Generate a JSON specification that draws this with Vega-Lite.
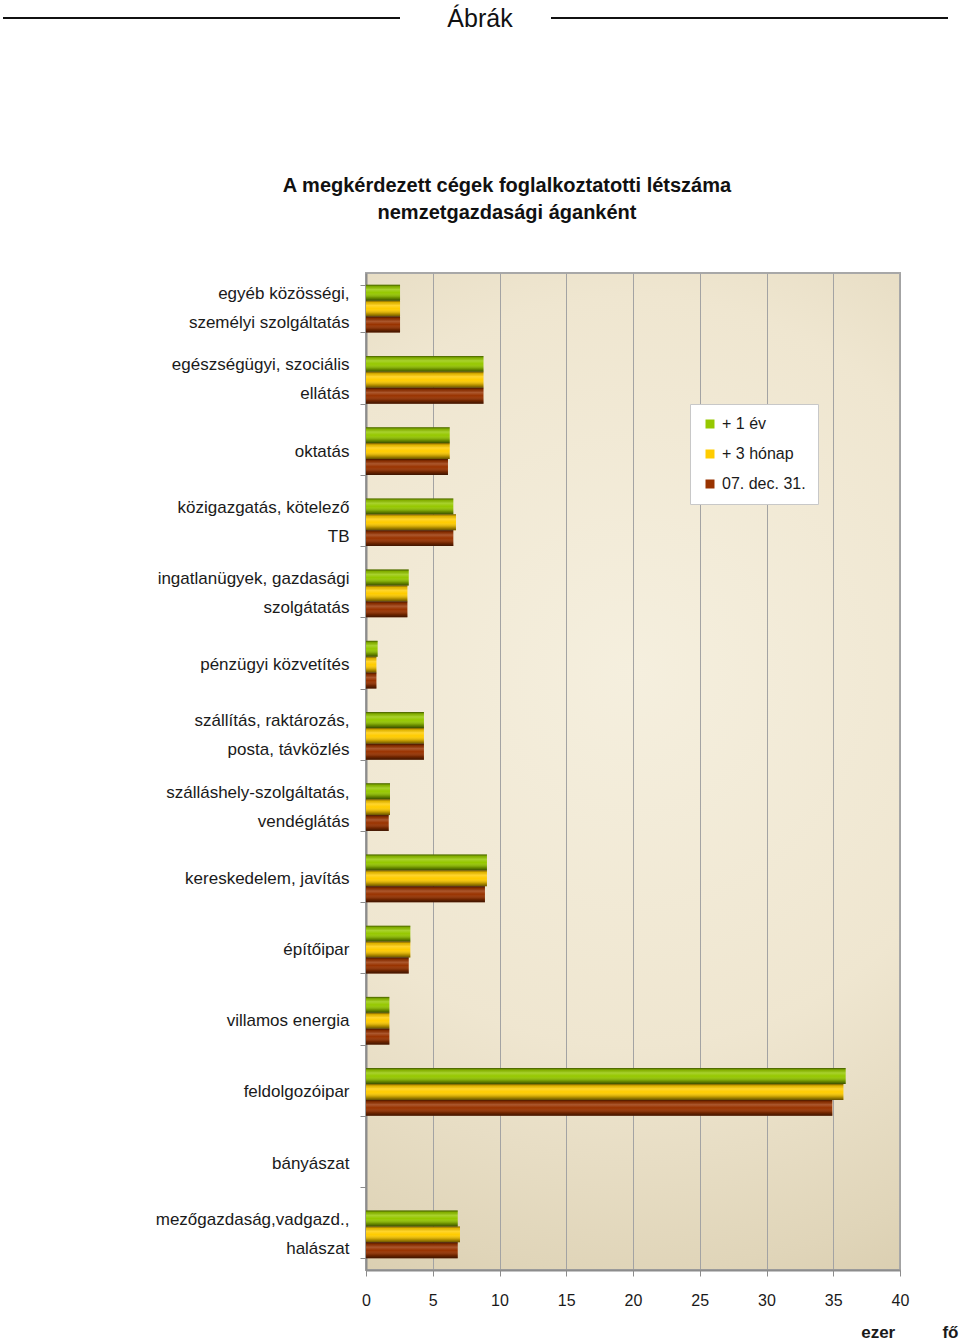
{
  "$schema": "https://vega.github.io/schema/vega-lite/v6.json",
  "width": 534,
  "height": 997,
  "autosize": "none",
  "padding": {"left": 366, "top": 273, "right": 60, "bottom": 73},
  "background": "white",
  "view": {
    "fill": {"gradient": "radial", "x1": 0.5, "y1": 0.4, "r1": 0, "x2": 0.5, "y2": 0.4, "r2": 0.75,
      "stops": [{"offset": 0, "color": "#f5efde"}, {"offset": 0.5, "color": "#efe6d0"}, {"offset": 0.8, "color": "#e0d5b9"}, {"offset": 1, "color": "#d3c6a6"}]},
    "stroke": "#a8a8a8",
    "strokeWidth": 2
  },
  "config": {
    "font": "Liberation Sans",
    "axis": {"labelFont": "Liberation Sans", "labelColor": "#1a1a1a", "titleFont": "Liberation Sans"},
    "legend": {"labelFont": "Liberation Sans"}
  },
  "datasets": {
    "main": [
      {"cat": "egyéb közösségi,\nszemélyi szolgáltatás", "series": "+ 1 év", "v": 2.55},
      {"cat": "egyéb közösségi,\nszemélyi szolgáltatás", "series": "+ 3 hónap", "v": 2.55},
      {"cat": "egyéb közösségi,\nszemélyi szolgáltatás", "series": "07. dec. 31.", "v": 2.55},
      {"cat": "egészségügyi, szociális\nellátás", "series": "+ 1 év", "v": 8.8},
      {"cat": "egészségügyi, szociális\nellátás", "series": "+ 3 hónap", "v": 8.8},
      {"cat": "egészségügyi, szociális\nellátás", "series": "07. dec. 31.", "v": 8.8},
      {"cat": "oktatás", "series": "+ 1 év", "v": 6.27},
      {"cat": "oktatás", "series": "+ 3 hónap", "v": 6.27},
      {"cat": "oktatás", "series": "07. dec. 31.", "v": 6.14},
      {"cat": "közigazgatás, kötelező\nTB", "series": "+ 1 év", "v": 6.54},
      {"cat": "közigazgatás, kötelező\nTB", "series": "+ 3 hónap", "v": 6.74},
      {"cat": "közigazgatás, kötelező\nTB", "series": "07. dec. 31.", "v": 6.54},
      {"cat": "ingatlanügyek, gazdasági\nszolgátatás", "series": "+ 1 év", "v": 3.2},
      {"cat": "ingatlanügyek, gazdasági\nszolgátatás", "series": "+ 3 hónap", "v": 3.1},
      {"cat": "ingatlanügyek, gazdasági\nszolgátatás", "series": "07. dec. 31.", "v": 3.1},
      {"cat": "pénzügyi közvetítés", "series": "+ 1 év", "v": 0.87},
      {"cat": "pénzügyi közvetítés", "series": "+ 3 hónap", "v": 0.78},
      {"cat": "pénzügyi közvetítés", "series": "07. dec. 31.", "v": 0.78},
      {"cat": "szállítás, raktározás,\nposta, távközlés", "series": "+ 1 év", "v": 4.34},
      {"cat": "szállítás, raktározás,\nposta, távközlés", "series": "+ 3 hónap", "v": 4.34},
      {"cat": "szállítás, raktározás,\nposta, távközlés", "series": "07. dec. 31.", "v": 4.34},
      {"cat": "szálláshely-szolgáltatás,\nvendéglátás", "series": "+ 1 év", "v": 1.8},
      {"cat": "szálláshely-szolgáltatás,\nvendéglátás", "series": "+ 3 hónap", "v": 1.8},
      {"cat": "szálláshely-szolgáltatás,\nvendéglátás", "series": "07. dec. 31.", "v": 1.7},
      {"cat": "kereskedelem, javítás", "series": "+ 1 év", "v": 9.06},
      {"cat": "kereskedelem, javítás", "series": "+ 3 hónap", "v": 9.06},
      {"cat": "kereskedelem, javítás", "series": "07. dec. 31.", "v": 8.91},
      {"cat": "építőipar", "series": "+ 1 év", "v": 3.32},
      {"cat": "építőipar", "series": "+ 3 hónap", "v": 3.32},
      {"cat": "építőipar", "series": "07. dec. 31.", "v": 3.2},
      {"cat": "villamos energia", "series": "+ 1 év", "v": 1.75},
      {"cat": "villamos energia", "series": "+ 3 hónap", "v": 1.75},
      {"cat": "villamos energia", "series": "07. dec. 31.", "v": 1.75},
      {"cat": "feldolgozóipar", "series": "+ 1 év", "v": 35.93},
      {"cat": "feldolgozóipar", "series": "+ 3 hónap", "v": 35.76},
      {"cat": "feldolgozóipar", "series": "07. dec. 31.", "v": 34.93},
      {"cat": "bányászat", "series": "+ 1 év", "v": 0},
      {"cat": "bányászat", "series": "+ 3 hónap", "v": 0},
      {"cat": "bányászat", "series": "07. dec. 31.", "v": 0},
      {"cat": "mezőgazdaság,vadgazd.,\nhalászat", "series": "+ 1 év", "v": 6.87},
      {"cat": "mezőgazdaság,vadgazd.,\nhalászat", "series": "+ 3 hónap", "v": 7.04},
      {"cat": "mezőgazdaság,vadgazd.,\nhalászat", "series": "07. dec. 31.", "v": 6.87}
    ],
    "one": [{}]
  },
  "layer": [
    {
      "data": {"name": "main"},
      "encoding": {
        "y": {
          "field": "cat", "type": "nominal",
          "scale": {
            "domain": ["egyéb közösségi,\nszemélyi szolgáltatás", "egészségügyi, szociális\nellátás", "oktatás", "közigazgatás, kötelező\nTB", "ingatlanügyek, gazdasági\nszolgátatás", "pénzügyi közvetítés", "szállítás, raktározás,\nposta, távközlés", "szálláshely-szolgáltatás,\nvendéglátás", "kereskedelem, javítás", "építőipar", "villamos energia", "feldolgozóipar", "bányászat", "mezőgazdaság,vadgazd.,\nhalászat"],
            "paddingInner": 0.33, "paddingOuter": 0.165
          },
          "axis": {
            "title": null, "labelExpr": "split(datum.label, '\\n')", "labelFontSize": 17, "labelLineHeight": 29,
            "labelOffset": {"condition": {"test": "indexof(datum.label, '\\n') >= 0", "value": -15}, "value": 0},
            "labelLimit": 400, "labelPadding": 11, "tickSize": 6, "tickBand": "extent", "tickColor": "#8c8c8c",
            "domainColor": "#8c8c8c", "domainWidth": 2, "grid": false, "labelAlign": "right"
          }
        },
        "yOffset": {"field": "series", "type": "nominal", "scale": {"domain": ["+ 1 év", "+ 3 hónap", "07. dec. 31."], "paddingInner": 0, "paddingOuter": 0}},
        "x": {
          "field": "v", "type": "quantitative",
          "scale": {"domain": [0, 40], "nice": false},
          "axis": {
            "values": [0, 5, 10, 15, 20, 25, 30, 35, 40], "grid": true, "gridColor": "#a3a3a3", "gridWidth": 1,
            "domainColor": "#8c8c8c", "domainWidth": 2, "tickColor": "#8c8c8c", "tickSize": 6,
            "labelFontSize": 16, "labelPadding": 16, "labelFlush": false, "labelOverlap": false,
            "title": "ezer\u00a0\u00a0\u00a0\u00a0\u00a0\u00a0\u00a0\u00a0\u00a0\u00a0fő", "titleFontSize": 17, "titleFontWeight": "bold",
            "titleColor": "#1a1a1a", "titleAlign": "right", "titleAnchor": null, "titleX": 592, "titleY": 67, "titleBaseline": "alphabetic"
          }
        }
      },
      "layer": [
        {
          "mark": {"type": "bar", "strokeWidth": 0},
          "encoding": {
            "color": {
              "field": "series", "type": "nominal",
              "scale": {"domain": ["+ 1 év", "+ 3 hónap", "07. dec. 31."], "range": ["#96c800", "#ffcc00", "#993300"]},
              "legend": {
                "title": null, "orient": "none", "legendX": 324, "legendY": 131, "labelFontSize": 16, "labelColor": "#1a1a1a",
                "symbolType": "square", "symbolSize": 81, "symbolStrokeWidth": 0, "rowPadding": 14, "padding": 12, "labelOffset": 4,
                "fillColor": "white", "strokeColor": "#c8c8c8"
              }
            }
          }
        },
        {
          "mark": {
            "type": "bar", "strokeWidth": 0,
            "fill": {"gradient": "linear", "x1": 0, "y1": 0, "x2": 0, "y2": 1,
              "stops": [
                {"offset": 0, "color": "rgba(0,0,0,0.55)"},
                {"offset": 0.12, "color": "rgba(0,0,0,0.12)"},
                {"offset": 0.3, "color": "rgba(255,255,255,0.18)"},
                {"offset": 0.5, "color": "rgba(255,255,255,0)"},
                {"offset": 0.8, "color": "rgba(0,0,0,0.25)"},
                {"offset": 1, "color": "rgba(0,0,0,0.6)"}
              ]}
          }
        }
      ]
    },
    {
      "data": {"name": "one"},
      "encoding": {},
      "layer": [
        {
          "mark": {"type": "rule", "color": "#111111", "strokeWidth": 2},
          "encoding": {
            "x": {"datum": -363, "type": "quantitative", "scale": {"domain": [0, 534], "nice": false, "zero": false}, "axis": null},
            "x2": {"datum": 34},
            "y": {"datum": -255, "type": "quantitative", "scale": {"domain": [0, 997], "reverse": true, "nice": false, "zero": false}, "axis": null}
          }
        },
        {
          "mark": {"type": "rule", "color": "#111111", "strokeWidth": 2},
          "encoding": {
            "x": {"datum": 185, "type": "quantitative", "scale": {"domain": [0, 534], "nice": false, "zero": false}, "axis": null},
            "x2": {"datum": 582},
            "y": {"datum": -255, "type": "quantitative", "scale": {"domain": [0, 997], "reverse": true, "nice": false, "zero": false}, "axis": null}
          }
        },
        {
          "mark": {"type": "text", "text": "Ábrák", "font": "Liberation Sans Narrow, Liberation Sans", "fontSize": 25, "color": "#111111", "align": "center", "baseline": "alphabetic"},
          "encoding": {
            "x": {"datum": 114, "type": "quantitative", "scale": {"domain": [0, 534], "nice": false, "zero": false}, "axis": null},
            "y": {"datum": -246, "type": "quantitative", "scale": {"domain": [0, 997], "reverse": true, "nice": false, "zero": false}, "axis": null}
          }
        },
        {
          "mark": {"type": "text", "text": ["A megkérdezett cégek foglalkoztatotti létszáma", "nemzetgazdasági áganként"], "font": "Liberation Sans", "fontSize": 20, "fontWeight": "bold", "lineHeight": 27, "color": "#111111", "align": "center", "baseline": "middle"},
          "encoding": {
            "x": {"datum": 141, "type": "quantitative", "scale": {"domain": [0, 534], "nice": false, "zero": false}, "axis": null},
            "y": {"datum": -87, "type": "quantitative", "scale": {"domain": [0, 997], "reverse": true, "nice": false, "zero": false}, "axis": null}
          }
        }
      ]
    }
  ],
  "resolve": {"scale": {"x": "independent", "y": "independent"}}
}
